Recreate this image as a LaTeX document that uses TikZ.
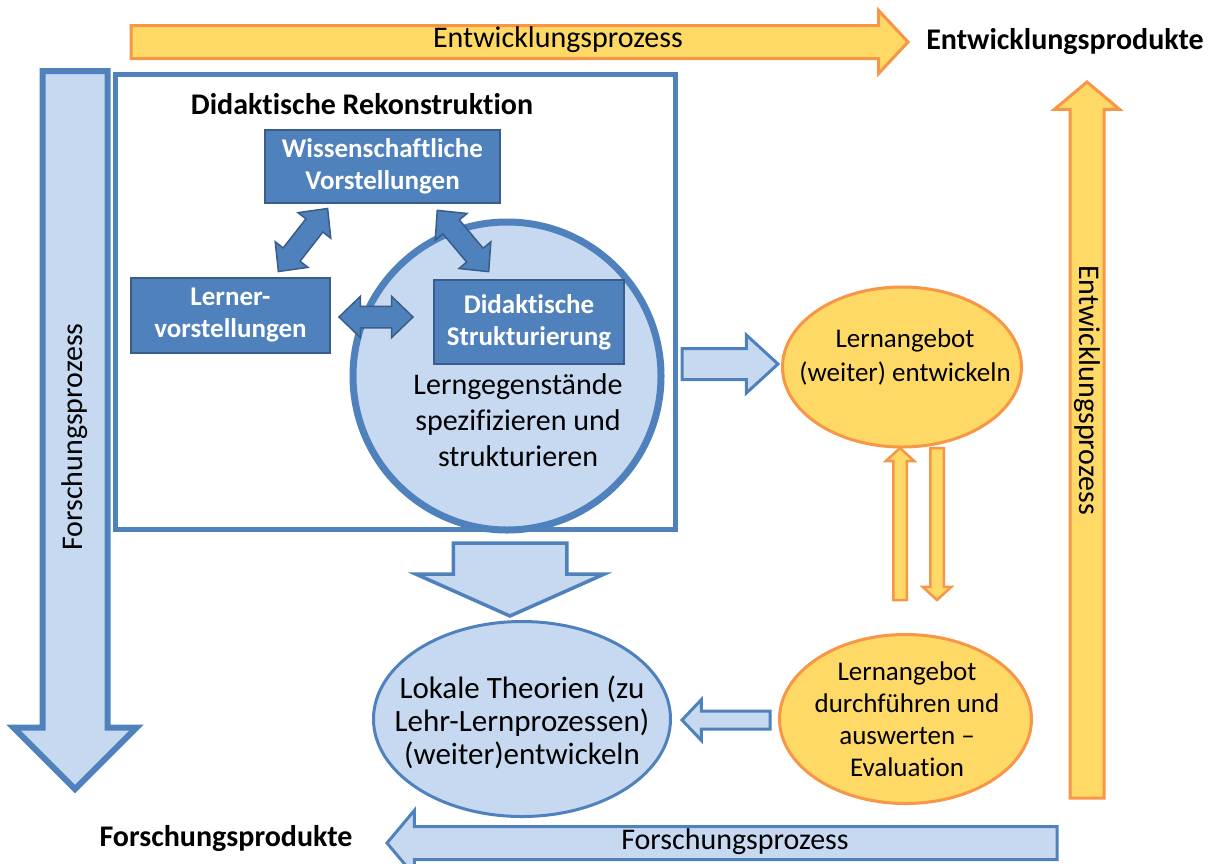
\documentclass[tikz,border=0pt]{standalone}
\usepackage{fontspec}
\setmainfont{Carlito}[Ligatures=NoCommon]
\usepackage{tikz}
\usetikzlibrary{positioning, shapes.geometric, shapes.arrows, calc}
\definecolor{mblue}{HTML}{4F81BD}
\definecolor{lblue}{HTML}{C6D9F1}
\definecolor{dblue}{HTML}{385D8A}
\definecolor{morange}{HTML}{F79646}
\definecolor{lgold}{HTML}{FFD966}

\begin{document}
\begin{tikzpicture}[
  x=1pt, y=-1pt,
  every node/.style={inner sep=0pt, outer sep=0pt},
  barr/.style={single arrow, draw=mblue, fill=lblue, line width=3pt},
  oarr/.style={single arrow, draw=morange, fill=lgold, line width=3pt},
  darr/.style={double arrow, draw=dblue, fill=mblue, line width=1.5pt, inner ysep=10pt,
    minimum width=40, double arrow head extend=10, double arrow tip angle=88},
  kbox/.style={rectangle, draw=dblue, fill=mblue, line width=2.5pt,
    text=white, align=center, font=\fontsize{27}{32}\selectfont\bfseries},
  bell/.style={ellipse, draw=mblue, fill=lblue, line width=3pt},
  oell/.style={ellipse, draw=morange, fill=lgold, line width=3pt},
  txt/.style={align=center, font=\fontsize{27}{32}\selectfont},
  plab/.style={font=\fontsize{30}{34}\selectfont},
  head/.style={font=\fontsize{30}{34}\selectfont\bfseries},
]
\useasboundingbox (0,0) rectangle (1214,863);

% Process arrows
\node[oarr, minimum height=777, minimum width=60, inner ysep=15pt, single arrow head extend=15,
      single arrow tip angle=94, anchor=tail] (ep1) at (131,42) {};
\node[plab] (ep1lab) at (558,40) {Entwicklungsprozess};
\node[oarr, rotate=90, minimum height=716, minimum width=62, inner ysep=15.5pt,
      single arrow head extend=15.5, single arrow tip angle=100, anchor=tail] (ep2) at (1087,798) {};
\node[plab, rotate=-90] (ep2lab) at (1087,390) {Entwicklungsprozess};
\node[barr, line width=6pt, rotate=-90, minimum height=718, minimum width=117, inner ysep=29.5pt,
      single arrow head extend=29, single arrow tip angle=90, anchor=tail] (fp1) at (75,71) {};
\node[plab, rotate=90] (fp1lab) at (75,437) {Forschungsprozess};
\node[barr, rotate=180, minimum height=670, minimum width=62, inner ysep=15pt,
      single arrow head extend=16, single arrow tip angle=100, anchor=tail] (fp2) at (1057,843) {};
\node[plab] (fp2lab) at (735,842) {Forschungsprozess};

% Products
\node[head] (eprod) at (1065,42) {Entwicklungsprodukte};
\node[head] (fprod) at (226,838) {Forschungsprodukte};

% Didaktische Rekonstruktion
\node[draw=mblue, line width=5.5pt, fill=white, minimum width=560, minimum height=455]
  (rek) at (395.5,302) {};
\node[head] (rektit) at (362,104) {Didaktische Rekonstruktion};
\node[circle, draw=mblue, fill=lblue, line width=7pt, minimum size=308] (dr) at (507,376) {};
\node[kbox, minimum width=235, minimum height=73] (wiss) at (382.5,166.5)
  {Wissenschaftliche\\Vorstellungen};
\node[kbox, minimum width=199, minimum height=75] (lernv) at (230.5,315.5)
  {Lerner-\\vorstellungen};
\node[kbox, minimum width=190, minimum height=84] (strukt) at (529,322)
  {Didaktische\\Strukturierung};
\node[txt, font=\fontsize{30}{36}\selectfont] (drlab) at (518,420)
  {Lerngegenstände\\spezifizieren und\\strukturieren};
\node[darr, minimum height=74] (d1) at (376,317) {};
\node[darr, rotate=52, minimum height=80] (d2) at (303,240) {};
\node[darr, rotate=-50, minimum height=80] (d3) at (463,241) {};

% Ellipses
\node[oell, minimum width=239, minimum height=160] (lern) at (902,367) {};
\node[txt, font=\fontsize{27}{34}\selectfont] (lernlab) at (905,357) {Lernangebot\\(weiter) entwickeln};
\node[oell, minimum width=252, minimum height=169] (eval) at (905.5,719) {};
\node[txt] (evallab) at (907,719) {Lernangebot\\durchführen und\\auswerten –\\Evaluation};
\node[bell, minimum width=297, minimum height=195] (lok) at (522,719) {};
\node[txt, font=\fontsize{31}{33}\selectfont] (loklab) at (522,722)
  {Lokale Theorien (zu\\Lehr-Lernprozessen)\\(weiter)entwickeln};

% Connecting arrows
\node[barr, line width=3.5pt, rotate=-90, minimum height=73, minimum width=185, inner ysep=55pt,
      single arrow head extend=37.5, single arrow tip angle=132, anchor=tail] (a1) at (510,543) {};
\node[barr, minimum height=96, minimum width=55, inner ysep=14pt, single arrow head extend=13.5,
      single arrow tip angle=85, anchor=tail] (a2) at (682,364) {};
\node[barr, rotate=180, minimum height=88, minimum width=38, inner ysep=7.5pt,
      single arrow head extend=11.5, single arrow tip angle=93, anchor=tail] (a3) at (770,720) {};
\node[oarr, line width=2.5pt, rotate=90, minimum height=152, minimum width=26, inner ysep=5.5pt,
      single arrow head extend=7.5, single arrow tip angle=95, anchor=tail] (o1) at (900,600) {};
\node[oarr, line width=2.5pt, rotate=-90, minimum height=152, minimum width=26, inner ysep=5.5pt,
      single arrow head extend=7.5, single arrow tip angle=95, anchor=tail] (o2) at (937,448) {};

\end{tikzpicture}
\end{document}
